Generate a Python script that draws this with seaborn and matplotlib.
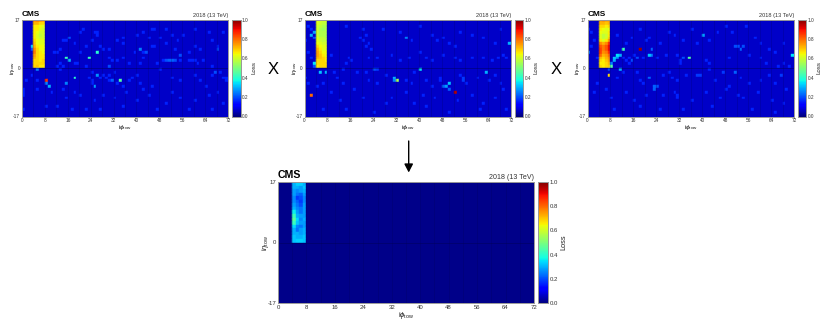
import numpy as np
import pandas as pd
import matplotlib
matplotlib.use("Agg")
import matplotlib.pyplot as plt
from matplotlib.patches import FancyArrowPatch
import seaborn as sns

# Values: block = iphi 4-7, ieta 16 down to 0
p1_block = [[.76,.78,.76,.74],[.72,.72,.68,.68],[.66,.66,.64,.62],[.66,.66,.62,.6],[.66,.64,.6,.6],
            [.66,.62,.58,.6],[.66,.62,.6,.6],[.68,.64,.62,.62],[.7,.64,.62,.62],[.72,.66,.64,.64],
            [.76,.68,.64,.64],[.78,.68,.66,.64],[.74,.68,.66,.66],[.72,.68,.66,.66],[.68,.68,.66,.68],
            [.68,.68,.68,.68],[.68,.7,.66,.66]]
p1_hot = [(3,7,.32),(8,-5,.86),(8,-6,.25),(9,-7,.3),(15,3,.42),(16,2,.3),(23,3,.42),(26,5,.4),(18,-4,.4),
          (34,-5,.45),(26,-3,.27),(25,-7,.28),(15,-6,.25),(30,0,.2),(31,-5,.22),(41,6,.25),(43,5,.2),
          (50,2,.2),(51,2,.22),(52,2,.22),(53,2,.2),(55,4,.2),(67,-2,.2),(68,6,.2),(16,10,.2),(5,-1,.25),(3,6,.2)]
p1_mid = [(20,12),(21,13),(25,12),(26,12),(26,11),(15,9),(14,9),(18,8),(24,9),(22,7),(13,6),(12,5),(11,5),(20,5),
          (27,7),(28,6),(30,6),(33,9),(35,10),(40,11),(42,12),(45,13),(46,13),(44,10),(48,10),(50,13),(52,11),
          (54,9),(45,7),(46,7),(42,5),(39,5),(35,8),(50,8),(53,6),(58,5),(60,7),(62,6),(66,9),(68,7),(70,12),
          (65,12),(60,13),(56,11),(30,3),(31,2),(33,2),(35,3),(37,1),(41,1),(42,3),(47,1),(49,2),(55,2),(58,2),
          (59,2),(60,2),(61,1),(63,2),(66,0),(13,1),(14,0),(12,0),(13,-1),(18,1),(19,1),(22,0),(24,-2),(23,-4),
          (24,-5),(24,-6),(27,-4),(28,-3),(29,-4),(30,-5),(30,-3),(32,-2),(33,-6),(35,-7),(37,-5),(38,-4),(40,-3),
          (41,-6),(48,-1),(52,-4),(55,-5),(60,-3),(62,-5),(64,-7),(66,-3),(69,-2),(70,-4),(45,-7),(42,-8),(5,-5),
          (3,-3),(1,-5),(0,-9),(0,-10),(0,-8),(5,-8),(10,-9),(14,-8),(15,-11),(18,-9),(20,-10),(25,-12),(28,-10),
          (32,-11),(36,-9),(40,-12),(44,-10),(50,-13),(55,-11),(60,-12),(65,-10),(70,-13),(68,-9),(8,-14),(12,-14),
          (17,-15),(22,-15),(27,-15),(35,-14),(47,-15),(58,-15),(66,-15),(0,-15),(52,-9),(71,-4),(71,-5)]

p2_block = [[.62,.6,.6,.6],[.62,.6,.58,.58],[.6,.58,.56,.56],[.6,.56,.54,.56],[.6,.56,.56,.56],
            [.6,.56,.56,.56],[.62,.58,.58,.56],[.62,.6,.58,.58],[.64,.62,.6,.6],[.68,.64,.62,.62],
            [.72,.66,.62,.62],[.74,.68,.64,.64],[.74,.7,.66,.64],[.72,.7,.68,.66],[.68,.68,.68,.66],
            [.68,.68,.68,.68],[.66,.68,.68,.68]]
p2_hot = [(2,11,.3),(3,12,.28),(3,10,.2),(3,1,.35),(3,0,.2),(5,-2,.32),(7,-2,.3),(2,-10,.8),(35,10,.25),(71,8,.3),
          (24,-1,.2),(25,-1,.18),(31,-4,.3),(32,-5,.55),(31,-5,.25),(40,-1,.35),(49,-7,.28),(50,-6,.32),(50,-8,.22),
          (48,-7,.22),(52,-9,.95),(63,-2,.3),(55,-4,.18),(55,-5,.18)]
p2_mid = [(1,14),(2,13),(0,9),(1,5),(2,3),(9,4),(10,-2),(19,10),(20,9),(21,11),(22,8),(21,7),(23,6),(20,13),(14,14),
          (27,13),(33,12),(37,9),(40,14),(44,11),(46,9),(48,10),(50,8),(52,7),(54,12),(58,11),(62,10),(66,8),(68,13),
          (15,3),(16,2),(14,1),(22,3),(25,3),(30,4),(33,2),(36,3),(40,5),(42,3),(44,2),(48,4),(52,3),(54,2),(58,3),
          (62,3),(65,2),(67,3),(69,4),(70,3),(13,-1),(18,-2),(21,-2),(11,-4),(13,-6),(22,-5),(25,-6),(28,-3),(35,-5),
          (37,-6),(38,-2),(42,-5),(44,-7),(47,-4),(47,-5),(54,-3),(56,-6),(60,-4),(64,-5),(66,-3),(68,-6),(69,-8),
          (0,-4),(1,-6),(4,-7),(6,-6),(9,-9),(12,-12),(17,-8),(20,-11),(28,-13),(30,-11),(35,-9),(38,-13),(41,-10),
          (45,-11),(42,-14),(53,-12),(58,-10),(62,-13),(66,-11),(70,-15),(6,-15),(14,-15),(24,-16),(50,-16),(61,-15)]

p3_block = [[.74,.76,.74,.74],[.72,.72,.7,.72],[.68,.68,.66,.68],[.66,.64,.62,.64],[.64,.62,.62,.66],
            [.62,.58,.6,.66],[.62,.58,.6,.68],[.66,.62,.66,.74],[.76,.72,.76,.86],[.82,.78,.82,.9],
            [.84,.78,.82,.9],[.84,.76,.78,.86],[.8,.72,.74,.8],[.72,.68,.72,.76],[.68,.66,.7,.74],
            [.66,.66,.68,.72],[.68,.66,.68,.7]]
p3_hot = [(0,5,.25),(12,6,.42),(10,4,.35),(11,4,.3),(9,3,.32),(10,3,.28),(9,2,.3),(8,1,.25),(7,-1,.2),(8,0,.45),
          (7,-3,.68),(11,-1,.3),(18,6,.98),(21,4,.32),(22,4,.25),(22,6,.22),(17,3,.2),(15,2,.2),(35,3,.45),(33,3,.2),
          (40,11,.28),(71,4,.35),(53,6,.22),(54,7,.2),(52,7,.2),(51,7,.2),(23,-7,.22),(24,-7,.2),(23,-8,.22),
          (21,-4,.22),(38,-3,.18),(39,-3,.18),(51,-2,.22),(47,-2,.18),(67,-3,.18)]
p3_mid = [(1,12),(0,13),(2,9),(1,7),(3,3),(10,11),(13,8),(15,10),(18,13),(20,9),(21,10),(25,8),(28,12),(30,11),(33,9),
          (36,13),(38,8),(42,9),(45,12),(48,14),(50,12),(55,14),(58,10),(60,8),(63,6),(65,5),(68,8),(12,3),(13,2),
          (14,3),(14,1),(16,4),(19,3),(24,3),(27,4),(31,4),(32,2),(32,1),(41,2),(42,1),(49,3),(56,4),(60,3),(62,1),
          (66,0),(68,1),(70,0),(12,-2),(10,-4),(17,-2),(18,-5),(19,-6),(26,-3),(28,-2),(29,-4),(31,-5),(34,-3),
          (42,-1),(44,-5),(49,-7),(53,-4),(56,-6),(60,-5),(63,-3),(65,-6),(69,-8),(3,-6),(2,-9),(6,-8),(8,-11),
          (13,-9),(16,-12),(20,-10),(26,-10),(30,-9),(31,-10),(31,-11),(36,-12),(41,-9),(46,-11),(48,-8),(52,-10),
          (54,-11),(59,-9),(64,-12),(68,-13),(9,-15),(18,-14),(25,-15),(33,-15),(43,-14),(57,-15),(65,-16)]

p4_block = [[.3,.33,.33,.3],[.3,.3,.28,.32],[.28,.26,.28,.3],[.28,.24,.22,.28],[.26,.18,.2,.26],
            [.26,.22,.18,.26],[.28,.24,.2,.28],[.3,.26,.24,.28],[.36,.28,.24,.28],[.42,.3,.28,.28],
            [.46,.34,.26,.3],[.42,.32,.28,.28],[.34,.26,.24,.28],[.3,.24,.28,.3],[.3,.3,.28,.3],
            [.32,.3,.3,.32],[.32,.33,.33,.32]]

top_phi = [0, 8, 16, 24, 32, 40, 48, 56, 64, 72]
eta_ticks = [17, 0, -17]
cbar_ticks = [0, .2, .4, .6, .8, 1]

W, H = 830, 327


def make_grid(block, hot, mid, mid_val, base):
    grid = np.full((34, 72), base, dtype=float)
    for e, row in enumerate(block):
        grid[e, 4:8] = row
    for c, e in mid:
        grid[16 - e, c] = mid_val
    for c, e, v in hot:
        grid[16 - e, c] = v
    return pd.DataFrame(grid)


def panel(df, x0, x1, y0, y1, cx0, cx1, fs):
    ax = fig.add_axes([x0 / W, 1 - y1 / H, (x1 - x0) / W, (y1 - y0) / H])
    cax = fig.add_axes([cx0 / W, 1 - y1 / H, (cx1 - cx0) / W, (y1 - y0) / H])
    sns.heatmap(df, ax=ax, cbar_ax=cax, cmap="jet", vmin=0, vmax=1, square=False, xticklabels=False, yticklabels=False,
                linewidths=0.3, linecolor="face", antialiased=True)
    for v in range(4, 72, 4):
        ax.axvline(v, color="#000050", lw=0.4, alpha=0.35)
    ax.axhline(17, color="#000050", lw=0.5, alpha=0.6)
    ax.set_xticks(top_phi)
    ax.set_xticklabels(top_phi, rotation=0)
    ax.set_yticks([17 - e for e in eta_ticks])
    ax.set_yticklabels(eta_ticks, rotation=0)
    ax.tick_params(labelsize=fs, length=0.8, width=0.4, pad=0.5, color="#333333", labelcolor="#333333")
    ax.set_xlabel(r"i$\phi_{\mathrm{tow}}$", fontsize=fs + 1.2, labelpad=0, color="#222222")
    ax.set_ylabel(r"i$\eta_{\mathrm{tow}}$", fontsize=fs + 1.2, labelpad=-2.5, color="#222222")
    for s in ax.spines.values():
        s.set_visible(True)
        s.set_color("#999999")
        s.set_linewidth(0.7)
    cax.set_yticks(cbar_ticks)
    cax.set_yticklabels([f"{t:.1f}" for t in cbar_ticks])
    cax.tick_params(labelsize=fs, length=1, width=0.4, pad=1, color="#333333", labelcolor="#333333", direction="in")
    cax.set_ylabel("Loss", fontsize=fs + 1, labelpad=2, color="#222222")
    for s in cax.spines.values():
        s.set_visible(True)
        s.set_color("#999999")
        s.set_linewidth(0.7)
    ax.text(0.0, 1.015, "CMS", transform=ax.transAxes, fontsize=fs * 1.75, fontweight="bold", va="bottom", color="black")
    ax.text(1.0, 1.012, "2018 (13 TeV)", transform=ax.transAxes, fontsize=fs * 1.2, ha="right", va="bottom", color="#333333")


sns.set_theme(style="white")
plt.rcParams["font.family"] = ["Liberation Sans", "DejaVu Sans"]
plt.rcParams["mathtext.fontset"] = "custom"
plt.rcParams["mathtext.rm"] = "Liberation Sans"
plt.rcParams["mathtext.it"] = "Liberation Sans:italic"

fig = plt.figure(figsize=(W / 100, H / 100), dpi=100)

panel(make_grid(p1_block, p1_hot, p1_mid, .16, .065), 22, 228, 19.5, 116.5, 232, 240.5, 3.4)
panel(make_grid(p2_block, p2_hot, p2_mid, .16, .065), 304.5, 511, 19.5, 116.5, 514.5, 523, 3.4)
panel(make_grid(p3_block, p3_hot, p3_mid, .16, .065), 587.5, 794, 19.5, 116.5, 797.5, 806, 3.4)
panel(make_grid(p4_block, [], [], .01, .01), 278, 534, 182, 303, 538, 548, 4.3)

fig.text(273.5 / W, 1 - 69 / H, "X", fontsize=12, ha="center", va="center", color="black")
fig.text(556.5 / W, 1 - 70 / H, "X", fontsize=12, ha="center", va="center", color="black")
fig.add_artist(FancyArrowPatch((408.7 / W, 1 - 141 / H), (408.7 / W, 1 - 172.5 / H), transform=fig.transFigure,
                               arrowstyle="-|>,head_width=2.6,head_length=5", mutation_scale=1, shrinkA=0, shrinkB=0,
                               lw=1, color="black"))

fig.savefig("out.png", dpi=100)
